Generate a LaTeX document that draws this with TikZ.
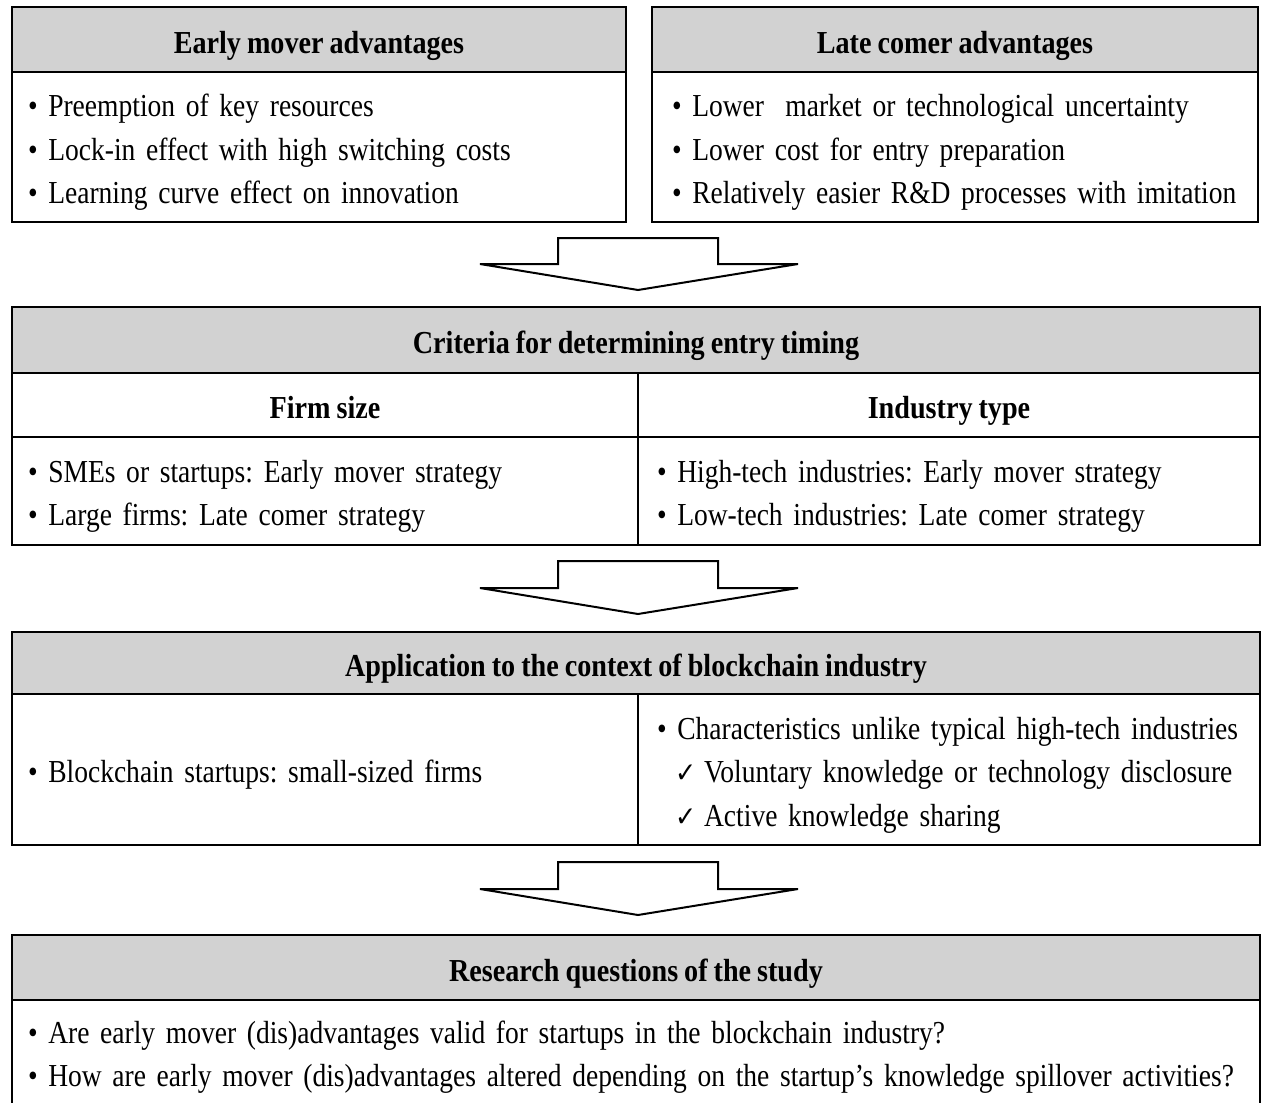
\documentclass[tikz,border=0pt]{standalone}
\usepackage{fontspec}
\setmainfont{Liberation Serif}[FakeStretch=0.86,WordSpace=0.6]
\newfontfamily\hdrfont{Liberation Serif}[FakeStretch=0.88,WordSpace=0.85]
\newfontfamily\dejavu{DejaVu Sans}[FakeStretch=0.9]
\definecolor{hdrgray}{RGB}{210,210,210}
\hyphenpenalty=10000
\begin{document}
\begin{tikzpicture}[x=1pt,y=-1pt,
  every node/.style={inner sep=0pt, outer sep=0pt, font=\fontsize{32}{43.5}\selectfont\frenchspacing},
  boxline/.style={draw, line width=2pt, anchor=north west},
  hdr/.style={boxline, fill=hdrgray, align=center, text height=30pt, text depth=3pt, font=\fontsize{32}{43.5}\selectfont\hdrfont\bfseries\frenchspacing},
  subhdr/.style={hdr, fill=white},
  cell/.style={boxline, fill=white, align=left, text height=28pt},
  oneline/.style={cell, text depth=2pt},
  twolines/.style={cell, text depth=45.5pt},
  threelines/.style={cell, text depth=89pt},
  blockarrow/.style={draw, line width=2pt, fill=white, line join=miter}]
\newcommand{\chkmark}{\hspace*{18pt}{\dejavu\fontsize{28}{43.5}\selectfont ✓}\hspace{8pt}}
\path[use as bounding box] (0,0) rectangle (1262,1103);
\clip (0,0) rectangle (1262,1103);
% Box 1
\node[hdr, minimum width=614pt, minimum height=65pt] (h1) at (12,7) {Early mover advantages};
\node[threelines, minimum width=614pt, minimum height=150pt, inner xsep=16pt, text width=582pt] (b1) at (12,72)
  {• Preemption of key resources\\• Lock-in effect with high switching costs\\• Learning curve effect on innovation};
% Box 2
\node[hdr, minimum width=606pt, minimum height=65pt] (h2) at (652,7) {Late comer advantages};
\node[threelines, minimum width=606pt, minimum height=150pt, inner xsep=20pt, text width=566pt] (b2) at (652,72)
  {• Lower\ \ market or technological uncertainty\\• Lower cost for entry preparation\\• Relatively easier R\&D processes with imitation};
% Arrow 1
\path[blockarrow] (558,238) -- (718,238) -- (718,264) -- (798,264) -- (638,290) -- (480,264) -- (558,264) -- cycle;
% Box 3
\node[hdr, minimum width=1248pt, minimum height=66pt] (h3) at (12,307) {Criteria for determining entry timing};
\node[subhdr, minimum width=626pt, minimum height=64pt] (s3l) at (12,373) {Firm size};
\node[subhdr, minimum width=622pt, minimum height=64pt] (s3r) at (638,373) {Industry type};
\node[twolines, minimum width=626pt, minimum height=108pt, inner xsep=16pt, text width=594pt] (b3l) at (12,437)
  {• SMEs or startups: Early mover strategy\\• Large firms: Late comer strategy};
\node[twolines, minimum width=622pt, minimum height=108pt, inner xsep=19pt, text width=584pt] (b3r) at (638,437)
  {• High-tech industries: Early mover strategy\\• Low-tech industries: Late comer strategy};
% Arrow 2
\path[blockarrow] (558,561) -- (718,561) -- (718,588) -- (798,588) -- (638,614) -- (480,588) -- (558,588) -- cycle;
% Box 4
\node[hdr, minimum width=1248pt, minimum height=62pt] (h4) at (12,632) {Application to the context of blockchain industry};
\node[oneline, minimum width=626pt, minimum height=151pt, inner xsep=16pt, text width=594pt] (b4l) at (12,694)
  {• Blockchain startups: small-sized firms};
\node[threelines, minimum width=622pt, minimum height=151pt, inner xsep=19pt, text width=584pt] (b4r) at (638,694)
  {• Characteristics unlike typical high-tech industries\\
   \chkmark Voluntary knowledge or technology disclosure\\
   \chkmark Active knowledge sharing};
% Arrow 3
\path[blockarrow] (558,862) -- (718,862) -- (718,889) -- (798,889) -- (638,915) -- (480,889) -- (558,889) -- cycle;
% Box 5
\node[hdr, minimum width=1248pt, minimum height=65pt] (h5) at (12,935) {Research questions of the study};
\node[cell, text height=33pt, text depth=55pt, minimum width=1248pt, minimum height=108pt, inner xsep=16pt, text width=1216pt] (b5) at (12,1000)
  {• Are early mover (dis)advantages valid for startups in the blockchain industry?\\
   • How are early mover (dis)advantages altered depending on the startup’s knowledge spillover activities?};
\end{tikzpicture}
\end{document}
